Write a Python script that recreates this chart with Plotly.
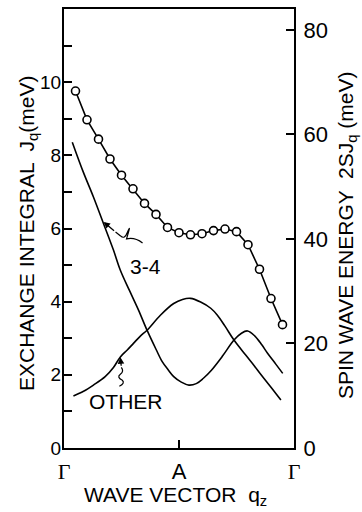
import plotly.graph_objects as go

# ---- data ----
q_circles = [0.05, 0.10, 0.15, 0.20, 0.25, 0.30, 0.35, 0.40, 0.45, 0.50,
             0.55, 0.60, 0.65, 0.70, 0.75, 0.80, 0.85, 0.90, 0.95]
spin_wave_energy = [68.3, 62.8, 59.1, 55.3, 52.2, 49.6, 46.8, 44.7, 42.2, 41.2,
                    40.8, 41.0, 41.6, 41.9, 41.4, 38.9, 34.2, 28.6, 23.6]

q_34 = [0.036, 0.084, 0.128, 0.172, 0.215, 0.245, 0.285, 0.324, 0.361, 0.400,
        0.427, 0.455, 0.477, 0.510, 0.543, 0.575, 0.605, 0.640, 0.690, 0.739,
        0.770, 0.798, 0.830, 0.860, 0.885, 0.920, 0.951]
J_34 = [8.36, 7.54, 6.86, 6.13, 5.41, 4.86, 4.30, 3.77, 3.22, 2.70,
        2.36, 2.12, 1.95, 1.80, 1.72, 1.76, 1.90, 2.12, 2.52, 2.95,
        3.13, 3.20, 3.06, 2.82, 2.59, 2.30, 2.04]

q_other = [0.041, 0.085, 0.128, 0.179, 0.215, 0.245, 0.275, 0.302, 0.332, 0.361,
           0.419, 0.477, 0.515, 0.550, 0.594, 0.638, 0.667, 0.700, 0.739, 0.790,
           0.827, 0.856, 0.900, 0.943]
J_other = [1.42, 1.55, 1.72, 1.95, 2.20, 2.49, 2.68, 2.86, 3.06, 3.22,
           3.63, 3.95, 4.06, 4.09, 3.99, 3.82, 3.63, 3.33, 2.95, 2.54,
           2.25, 2.01, 1.66, 1.31]

x_tickvals = [0, 0.5, 1]
x_ticklabels = ["Γ", "A", "Γ"]
left_tickvals = [0, 1, 2, 3, 4, 5, 6, 7, 8, 9, 10, 11]
left_ticklabels = ["0", "", "2", "", "4", "", "6", "", "8", "", "10", ""]
right_tickvals = [0, 20, 40, 60, 80]
right_ticklabels = ["0", "20", "40", "60", "80"]

FONT = "Liberation Sans, Arial, sans-serif"
SERIF = "Liberation Serif, Times New Roman, serif"

fig = go.Figure()
fig.add_trace(go.Scatter(x=q_34, y=J_34, mode="lines", line=dict(color="black", width=1.6, shape="spline"),
                         showlegend=False, hoverinfo="skip"))
fig.add_trace(go.Scatter(x=q_other, y=J_other, mode="lines", line=dict(color="black", width=1.6, shape="spline"),
                         showlegend=False, hoverinfo="skip"))
fig.add_trace(go.Scatter(x=q_circles, y=spin_wave_energy, yaxis="y2", mode="lines+markers",
                         line=dict(color="black", width=1.6),
                         marker=dict(symbol="circle", size=8, color="white", line=dict(color="black", width=1.6)),
                         showlegend=False, hoverinfo="skip"))

ticktext_x = ['<span style="font-family:%s">%s</span>' % (SERIF, t) if t == "Γ" else t for t in x_ticklabels]

fig.update_layout(
    width=362, height=512,
    margin=dict(l=64, r=68, t=7, b=64),
    paper_bgcolor="white", plot_bgcolor="white",
    font=dict(family=FONT, color="black", size=20),
    xaxis=dict(range=[0, 1], showgrid=False, zeroline=False, showline=True, mirror=True,
               linecolor="black", linewidth=2, tickvals=x_tickvals, ticktext=ticktext_x,
               ticks="inside", ticklen=8, tickwidth=1.5, tickcolor="black",
               tickfont=dict(size=22), ticklabelstandoff=3),
    yaxis=dict(range=[0, 12], showgrid=False, zeroline=False, showline=True, mirror=False,
               linecolor="black", linewidth=2, tickvals=left_tickvals, ticktext=left_ticklabels,
               ticks="inside", ticklen=8, tickwidth=1.5, tickcolor="black",
               tickfont=dict(size=19), ticklabelstandoff=-3),
    yaxis2=dict(range=[0, 84], overlaying="y", side="right", showgrid=False, zeroline=False,
                showline=True, linecolor="black", linewidth=2,
                tickvals=right_tickvals, ticktext=right_ticklabels,
                ticks="inside", ticklen=8, tickwidth=1.5, tickcolor="black",
                tickfont=dict(size=22), ticklabelstandoff=3),
)

annotations = [
    dict(text="EXCHANGE INTEGRAL  J<sub>q</sub>(meV)", xref="paper", yref="paper", x=0, y=0.4875,
         xshift=-36, textangle=-90, showarrow=False, font=dict(size=21), xanchor="center", yanchor="middle"),
    dict(text="SPIN WAVE ENERGY  2SJ<sub>q</sub> (meV)", xref="paper", yref="paper", x=1, y=0.485,
         xshift=53, textangle=-90, showarrow=False, font=dict(size=21), xanchor="center", yanchor="middle"),
    dict(text="WAVE VECTOR  q<sub>z</sub>", xref="paper", yref="paper", x=0.483, y=0,
         yshift=-48, showarrow=False, font=dict(size=21), xanchor="center", yanchor="middle"),
    dict(text="3-4", x=0.354, y=4.97, xref="x", yref="y", showarrow=False, font=dict(size=21)),
    dict(text="OTHER", x=0.271, y=1.26, xref="x", yref="y", showarrow=False, font=dict(size=21)),
    # arrowheads pointing at curves
    dict(text="", x=0.172, y=6.18, xref="x", yref="y", showarrow=True, ax=12, ay=10,
         arrowhead=2, arrowsize=1, arrowwidth=1.3, arrowcolor="black", standoff=0),
    dict(text="", x=0.245, y=2.48, xref="x", yref="y", showarrow=True, ax=1, ay=10,
         arrowhead=2, arrowsize=1, arrowwidth=1.3, arrowcolor="black", standoff=0),
]
fig.update_layout(annotations=annotations)

# squiggly leader lines (pixel paths anchored to arrow heads)
fig.add_shape(type="path", xref="x", yref="y", xsizemode="pixel", ysizemode="pixel",
              xanchor=0.172, yanchor=6.18,
              path="M12,-10 L17,-14 Q21,-18 24,-10 Q27,-3 25,-10 L23,-17 Q31,-15 39,-21",
              line=dict(color="black", width=1.2))
fig.add_shape(type="path", xref="x", yref="y", xsizemode="pixel", ysizemode="pixel",
              xanchor=0.245, yanchor=2.48,
              path="M1,-10 Q4,-14 0,-17 Q-4,-20 2,-23 Q5,-26 -1,-29",
              line=dict(color="black", width=1.2))

fig.write_html("out.html", config={"displayModeBar": False},
               post_script="document.body.style.margin='0';document.body.style.overflow='hidden';")
